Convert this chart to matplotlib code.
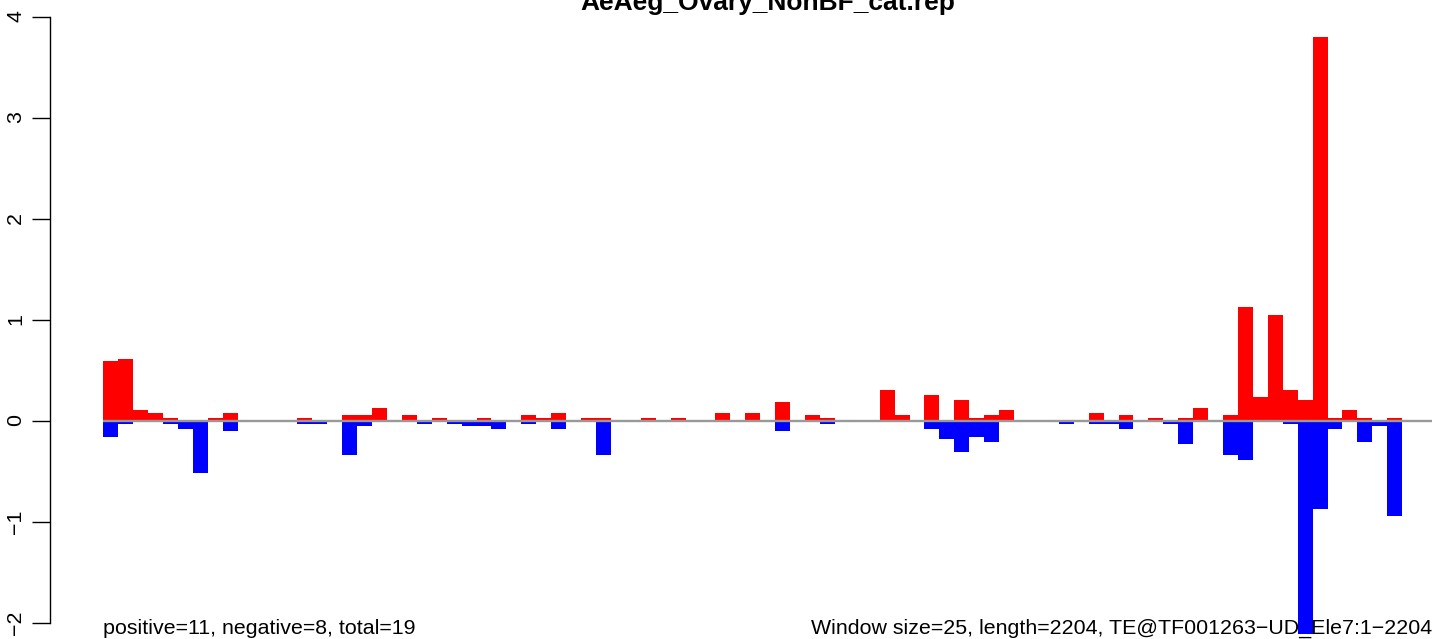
import matplotlib
matplotlib.use("Agg")
import matplotlib.pyplot as plt
import numpy as np

plt.rcParams['font.family'] = ['Liberation Sans', 'DejaVu Sans']

title = "AeAeg_Ovary_NonBF_cat.rep"
left_note = "positive=11, negative=8, total=19"
right_note = "Window size=25, length=2204, TE@TF001263\u2212UD_Ele7:1\u22122204"

# 87 windows (window size 25, length 2204)
pos_vals = [
    0.589, 0.609, 0.104, 0.074, 0.025, 0.0, 0.0, 0.025, 0.074, 0.0,
    0.0, 0.0, 0.0, 0.025, 0.0, 0.0, 0.054, 0.054, 0.124, 0.0,
    0.054, 0.0, 0.025, 0.0, 0.0, 0.025, 0.0, 0.0, 0.054, 0.025,
    0.074, 0.0, 0.025, 0.025, 0.0, 0.0, 0.025, 0.0, 0.025, 0.0,
    0.0, 0.074, 0.0, 0.074, 0.0, 0.183, 0.0, 0.054, 0.025, 0.0,
    0.0, 0.0, 0.302, 0.054, 0.0, 0.252, 0.0, 0.203, 0.025, 0.054,
    0.104, 0.0, 0.0, 0.0, 0.0, 0.0, 0.074, 0.0, 0.054, 0.0,
    0.025, 0.0, 0.025, 0.124, 0.0, 0.054, 1.124, 0.233, 1.045, 0.302,
    0.203, 3.797, 0.025, 0.104, 0.025, 0.0, 0.025,
]
neg_vals = [
    -0.163, -0.035, 0.0, 0.0, -0.035, -0.084, -0.520, 0.0, -0.104, 0.0,
    0.0, 0.0, 0.0, -0.035, -0.035, 0.0, -0.342, -0.054, 0.0, 0.0,
    0.0, -0.035, 0.0, -0.035, -0.054, -0.054, -0.084, 0.0, -0.035, 0.0,
    -0.084, 0.0, 0.0, -0.342, 0.0, 0.0, 0.0, 0.0, 0.0, 0.0,
    0.0, 0.0, 0.0, 0.0, 0.0, -0.104, 0.0, 0.0, -0.035, 0.0,
    0.0, 0.0, 0.0, 0.0, 0.0, -0.084, -0.183, -0.312, -0.163, -0.213,
    0.0, 0.0, 0.0, 0.0, -0.035, 0.0, -0.035, -0.035, -0.084, 0.0,
    0.0, -0.035, -0.233, 0.0, 0.0, -0.342, -0.391, 0.0, 0.0, -0.035,
    -2.110, -0.874, -0.084, 0.0, -0.213, -0.054, -0.946,
]
n_windows = 89
y_ticks = [-2, -1, 0, 1, 2, 3, 4]

W, H = 1444, 639
fig = plt.figure(figsize=(W / 100, H / 100), dpi=100)
ax_left = 50
ax = fig.add_axes([ax_left / W, 0, (W - ax_left) / W, 1])

bar_w_px = 14.93
x0_px = 103.3
zero_px = 420.5
unit_px = 101.0
xlim = ((ax_left - x0_px) / bar_w_px, (W - x0_px) / bar_w_px)
ylim = (-(H - zero_px) / unit_px, zero_px / unit_px)

x = np.arange(len(pos_vals))
ax.bar(x, pos_vals, width=1.0, align='edge', color='#ff0000', linewidth=0, zorder=2)
ax.bar(x, neg_vals, width=1.0, align='edge', color='#0000ff', linewidth=0, zorder=3)
ax.plot([0, n_windows], [0, 0], color='#999999', lw=1.7, zorder=4, solid_capstyle='butt')

ax.set_xlim(*xlim)
ax.set_ylim(*ylim)
for s in ['top', 'right', 'bottom']:
    ax.spines[s].set_visible(False)
ax.spines['left'].set_bounds(-2, 4)
ax.spines['left'].set_linewidth(1.0)
ax.set_xticks([])
ax.set_yticks(y_ticks)
ax.set_yticklabels([str(t).replace('-', '\u2212') for t in y_ticks],
                   rotation=90, va='center', fontsize=15.4)
ax.tick_params(axis='y', length=13, width=1.0, pad=5)
ax.patch.set_alpha(0)

ax.text(0, (zero_px - 633.5) / unit_px, left_note, ha='left', va='baseline', fontsize=15.4)
ax.text(n_windows, (zero_px - 633.5) / unit_px, right_note, ha='right', va='baseline', fontsize=15.4)

fig.text(767.5 / W, 1 - 10 / H, title,
         ha='center', va='baseline', fontsize=19, fontweight='bold')

fig.savefig('out.png', dpi=100)
